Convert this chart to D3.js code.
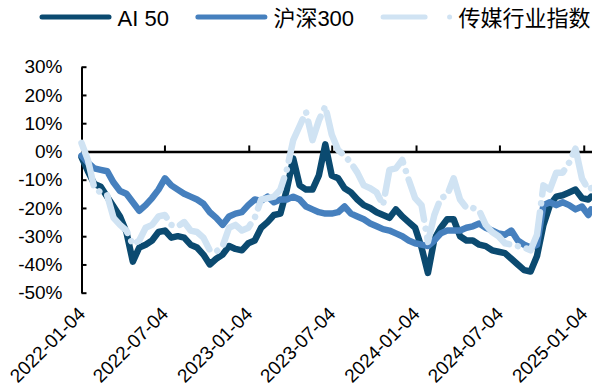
<!DOCTYPE html>
<html>
<head>
<meta charset="utf-8">
<script src="https://cdn.jsdelivr.net/npm/d3@7"></script>
<style>
  html, body { margin: 0; padding: 0; background: #fff; }
  svg { display: block; }
  text { font-family: "Liberation Sans", Arial, "Noto Sans CJK SC", sans-serif; fill: #000; }
</style>
</head>
<body>
<svg id="chart" width="592" height="392"></svg>
<script>
// Fortnightly observation dates
const dates = [
  "2022-01-04","2022-01-18","2022-02-01","2022-02-15","2022-03-01","2022-03-15","2022-03-29","2022-04-12",
  "2022-04-26","2022-05-10","2022-05-24","2022-06-07","2022-06-21","2022-07-05","2022-07-19","2022-08-02",
  "2022-08-16","2022-08-30","2022-09-13","2022-09-27","2022-10-11","2022-10-25","2022-11-08","2022-11-22",
  "2022-12-06","2022-12-20","2023-01-03","2023-01-17","2023-01-31","2023-02-14","2023-02-28","2023-03-14",
  "2023-03-28","2023-04-11","2023-04-25","2023-05-09","2023-05-23","2023-06-06","2023-06-20","2023-07-04",
  "2023-07-18","2023-08-01","2023-08-15","2023-08-29","2023-09-12","2023-09-26","2023-10-10","2023-10-24",
  "2023-11-07","2023-11-21","2023-12-05","2023-12-19","2024-01-02","2024-01-16","2024-01-30","2024-02-13",
  "2024-02-27","2024-03-12","2024-03-26","2024-04-09","2024-04-23","2024-05-07","2024-05-21","2024-06-04",
  "2024-06-18","2024-07-02","2024-07-16","2024-07-30","2024-08-13","2024-08-27","2024-09-10","2024-09-24",
  "2024-10-08","2024-10-22","2024-11-05","2024-11-19","2024-12-03","2024-12-17","2024-12-31","2025-01-14",
  "2025-01-20"
];

// Cumulative return (%) of each index
const ai50 = [
  -2, -7, -11.5, -12.5, -16, -19.5, -23, -28.5, -39, -34, -33, -31.5, -28.5, -28, -30.5, -30,
  -30.5, -33, -34, -36.5, -40, -38, -36.5, -33.5, -34.5, -35, -32.5, -31.5, -27, -25, -22.5, -22,
  -13.5, -2.5, -12, -13.5, -13.5, -8.5, 2.5, -8.5, -9.5, -13, -14.5, -17, -19, -20, -21.5, -22.5,
  -23.5, -20.5, -23, -25, -27, -34, -43, -31, -27, -24, -24, -30, -31.5, -31.5, -33, -33.5,
  -35, -35.5, -36, -38, -40, -42, -42.5, -37, -26, -19, -16, -15.5, -14.5, -13.5, -16.5, -17,
  -16
];
const hs300 = [
  -1.5, -4, -6, -6.5, -7, -11, -14, -15, -18, -21, -19, -16.5, -13.5, -9.5, -12, -13.5,
  -15, -16, -17, -18.5, -21.5, -23.5, -26, -23, -22, -21.5, -19, -17, -17.5, -16, -18, -17,
  -17, -16, -17, -19.5, -20.5, -21.5, -22, -22, -21.5, -19.5, -22, -23, -24, -25.5, -26.5, -27.5,
  -28, -29, -30, -31.5, -32.5, -33, -33.5, -31.5, -29, -28, -28, -28, -27, -26.5, -25.5, -27,
  -28, -29, -29.5, -28, -31.5, -33, -34, -33, -19, -18, -19, -18, -19, -20.5, -19.5, -22.5,
  -20.5
];
const media = [
  3, -3, -13, -14.5, -15.5, -23.5, -26, -28, -33, -31.5, -27, -26, -23, -22.5, -26, -26.5,
  -25, -28, -28.5, -30.5, -35, -35.5, -33.5, -27, -26, -28, -27, -23.5, -17, -16.5, -16, -13.5,
  -6.5, 4, 9, 14, 4, 11, 16, 6, 0.5, -1.5, -4, -7.5, -12, -13, -14.5, -19,
  -6.5, -6, -3, -10, -16.5, -19, -32, -22.5, -16.5, -15.5, -9.5, -17, -20, -20, -21, -26,
  -28.5, -30, -32.5, -33, -33.5, -34, -35, -29.5, -12, -13.5, -7.5, -7.5, -4, 1, -9.5, -13.5,
  -13
];

const seriesNames = ["AI 50", "沪深300", "传媒行业指数"];
const yTickValues = [-50, -40, -30, -20, -10, 0, 10, 20, 30];
const xTickLabels = ["2022-01-04", "2022-07-04", "2023-01-04", "2023-07-04", "2024-01-04", "2024-07-04", "2025-01-04"];
const xDomain = ["2022-01-04", "2025-01-22"];

// ---- styling ----
const lineStyles = [
  { color: "#0b4a70", width: 6.5, dash: null, legendDash: null },
  { color: "#4680be", width: 6.5, dash: null, legendDash: null },
  { color: "#d0e3f3", width: 6.5, dash: "44 9 0.01 9", legendDash: "42 24.5 0.01 24.5" }
];

const parse = d3.timeParse("%Y-%m-%d");
const fmt = d3.timeFormat("%Y-%m-%d");
const plot = { left: 81.5, right: 592, top: 66.7, bottom: 292.7 };

const x = d3.scaleTime().domain(xDomain.map(parse)).range([plot.left, plot.right]);
const y = d3.scaleLinear().domain([-50, 30]).range([plot.bottom, plot.top]);

const svg = d3.select("#chart");

// y axis with inward ticks
const yAxis = svg.append("g")
  .attr("transform", `translate(${plot.left},0)`)
  .call(d3.axisLeft(y).tickValues(yTickValues).tickFormat(d => d + "%")
    .tickSizeInner(-5).tickSizeOuter(0).tickPadding(19));
yAxis.select(".domain").attr("stroke", "#000").attr("stroke-width", 2);
yAxis.selectAll(".tick line").attr("stroke", "#000").attr("stroke-width", 2);
yAxis.selectAll(".tick text").attr("font-size", 19).attr("font-family", null).attr("fill", "#000");

// horizontal axis along the zero line, ticks pointing up
const xTicks = xTickLabels.map(parse);
const xAxis = svg.append("g")
  .attr("transform", `translate(0,${y(0)})`)
  .call(d3.axisBottom(x).tickValues(xTicks).tickFormat("")
    .tickSizeInner(-6).tickSizeOuter(0));
xAxis.select(".domain").attr("stroke", "#000").attr("stroke-width", 2.5);
xAxis.selectAll(".tick line").attr("stroke", "#000").attr("stroke-width", 2);

// rotated date labels below the plot
svg.append("g").selectAll("text")
  .data(xTicks)
  .join("text")
  .attr("transform", d => `translate(${x(d) + 5},${315}) rotate(-45)`)
  .attr("text-anchor", "end")
  .attr("font-size", 19)
  .text(d => fmt(d));

// series lines
const seriesValues = [ai50, hs300, media];
const line = d3.line()
  .x(d => x(d.date))
  .y(d => y(d.value));

seriesValues.forEach((vals, k) => {
  const rows = vals.map((v, i) => ({ date: parse(dates[i]), value: v }));
  const st = lineStyles[k];
  svg.append("path")
    .datum(rows)
    .attr("fill", "none")
    .attr("stroke", st.color)
    .attr("stroke-width", st.width)
    .attr("stroke-linejoin", "round")
    .attr("stroke-linecap", "round")
    .attr("stroke-dasharray", st.dash)
    .attr("d", line);
});

// legend
let lx = 39.5;
const legendY = 17;
seriesNames.forEach((name, k) => {
  const st = lineStyles[k];
  svg.append("line")
    .attr("x1", lx + 2.5).attr("x2", lx + 69.5)
    .attr("y1", legendY).attr("y2", legendY)
    .attr("stroke", st.color)
    .attr("stroke-width", 5)
    .attr("stroke-linecap", "round")
    .attr("stroke-dasharray", st.legendDash);
  const t = svg.append("text")
    .attr("x", lx + 78)
    .attr("y", 25.5)
    .attr("font-size", 22)
    .text(name);
  lx = lx + 78 + t.node().getComputedTextLength() + 26.5;
});
</script>
</body>
</html>
